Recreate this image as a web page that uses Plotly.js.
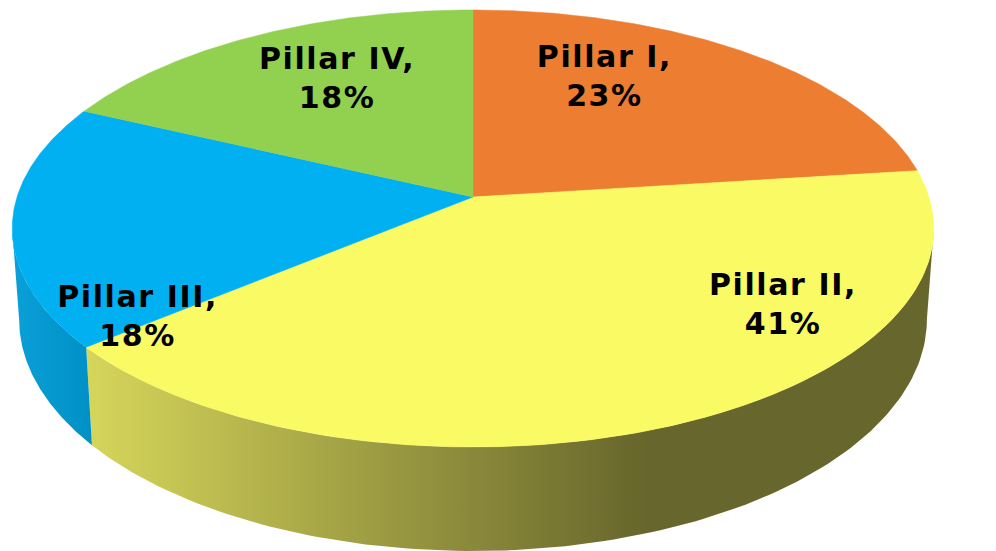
<!DOCTYPE html>
<html>
<head>
<meta charset="utf-8">
<script src="https://cdn.plot.ly/plotly-3.0.1.min.js"></script>
<style>
html,body{margin:0;padding:0;background:#fff;}
#chart{width:996px;height:551px;}
#chart .annotation-text{letter-spacing:1.6px;}
</style>
</head>
<body>
<div id="chart"></div>
<script>
// ---- data ----
const categories = ['Pillar I', 'Pillar II', 'Pillar III', 'Pillar IV'];
const shares = [23, 41, 18, 18];
const topColors = ['#ED7D31', '#FAFA64', '#00B0F0', '#92D050'];
const wallScales = [
  [[0, '#C8682A'], [1, '#B05A22']],
  [[0, '#D6D65B'], [0.66, '#67662C'], [1, '#67662C']],
  [[0, '#0AA0D8'], [1, '#0090C5']],
  [[0, '#7CB344'], [1, '#6FA03C']]
];
const labelPos = [[604, 76], [783, 304], [137, 316], [337, 78]];

// ---- 3D pie geometry (perspective ellipse, pixel space) ----
const CX = 473, CY = 197, SX = 456, SY = 214, E = 0.144, T = 89, BS = 0.985;
const DEG = Math.PI / 180;
function proj(thetaDeg, r, bottom) {
  const t = thetaDeg * DEG;
  const u = r * Math.sin(t), v = r * Math.cos(t);
  const w = 1 + E * v;
  const x = CX + SX * (bottom ? BS : 1) * u / w;
  const y = CY - SY * v / w + (bottom ? T / w : 0);
  return [x, y];
}
const total = shares.reduce((a, b) => a + b, 0);
const bounds = [0];
shares.forEach(s => bounds.push(bounds[bounds.length - 1] + s / total * 360));

const thR = Math.acos(-E) / DEG;      // right silhouette angle
const thL = 360 - thR;                // left silhouette angle

const traces = [];
// side walls (front, visible part)
shares.forEach((s, i) => {
  const a = Math.max(bounds[i], thR), b = Math.min(bounds[i + 1], thL);
  if (b <= a) return;
  const xs = [], ys = [];
  const N = 120;
  for (let k = 0; k <= N; k++) { const p = proj(a + (b - a) * k / N, 1, false); xs.push(p[0]); ys.push(p[1]); }
  for (let k = N; k >= 0; k--) { const p = proj(a + (b - a) * k / N, 1, true); xs.push(p[0]); ys.push(p[1]); }
  xs.push(xs[0]); ys.push(ys[0]);
  traces.push({
    type: 'scatter', mode: 'lines', x: xs, y: ys, fill: 'toself',
    line: {width: 0, color: 'rgba(0,0,0,0)'},
    fillgradient: {type: 'horizontal', colorscale: wallScales[i]},
    hoverinfo: 'skip', showlegend: false
  });
});
// top face slices
shares.forEach((s, i) => {
  const a = bounds[i], b = bounds[i + 1];
  const c = proj(0, 0, false);
  const xs = [c[0]], ys = [c[1]];
  const N = 200;
  for (let k = 0; k <= N; k++) { const p = proj(a + (b - a) * k / N, 1, false); xs.push(p[0]); ys.push(p[1]); }
  xs.push(c[0]); ys.push(c[1]);
  traces.push({
    type: 'scatter', mode: 'lines', x: xs, y: ys, fill: 'toself',
    fillcolor: topColors[i], line: {width: 0.5, color: topColors[i]},
    name: categories[i], hoverinfo: 'name', showlegend: false
  });
});

const annotations = categories.map((c, i) => ({
  x: labelPos[i][0], y: labelPos[i][1], xref: 'x', yref: 'y',
  text: '<b>' + c + ',<br>' + Math.round(shares[i] / total * 100) + '%</b>',
  showarrow: false, xanchor: 'center', yanchor: 'middle', align: 'center',
  font: {family: 'DejaVu Sans, Verdana, sans-serif', size: 30, color: '#000'}
}));

const layout = {
  width: 996, height: 551,
  margin: {l: 0, r: 0, t: 0, b: 0},
  paper_bgcolor: '#fff', plot_bgcolor: '#fff',
  xaxis: {range: [0, 996], visible: false, fixedrange: true},
  yaxis: {range: [551, 0], visible: false, fixedrange: true},
  annotations: annotations,
  showlegend: false
};
Plotly.newPlot('chart', traces, layout, {displayModeBar: false, staticPlot: true});
</script>
</body>
</html>
